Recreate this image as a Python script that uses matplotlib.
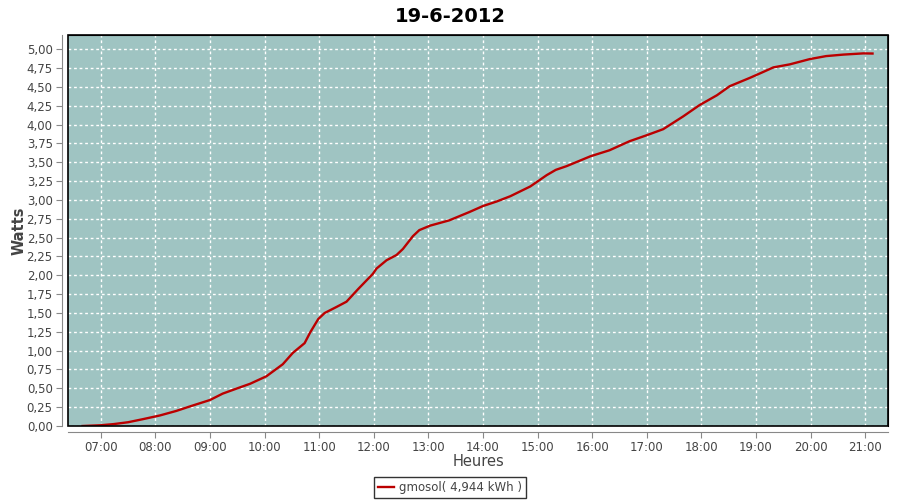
import matplotlib
matplotlib.use("Agg")
import matplotlib.pyplot as plt
import matplotlib.dates as mdates
from matplotlib.patches import Rectangle
import pandas as pd

# readings of the day (time, cumulated energy)
heures = ["06:40", "07:00", "07:14", "07:30", "07:46", "08:05", "08:23", "08:38", "09:00",
          "09:14", "09:30", "09:44", "10:02", "10:20", "10:31", "10:44", "10:50", "10:59",
          "11:06", "11:19", "11:30", "11:43", "11:59", "12:03", "12:14", "12:25", "12:32",
          "12:43", "12:50", "13:02", "13:23", "13:45", "14:00", "14:15", "14:30", "14:52",
          "15:10", "15:20", "15:32", "15:58", "16:19", "16:41", "17:00", "17:18", "17:40",
          "17:58", "18:17", "18:31", "18:53", "19:08", "19:19", "19:37", "19:59", "20:17",
          "20:36", "20:58", "21:08"]
watts = [0.00, 0.01, 0.025, 0.05, 0.09, 0.14, 0.20, 0.26, 0.345,
         0.43, 0.50, 0.56, 0.66, 0.82, 0.97, 1.10, 1.24, 1.42,
         1.50, 1.58, 1.65, 1.82, 2.02, 2.09, 2.20, 2.27, 2.35,
         2.52, 2.60, 2.66, 2.73, 2.84, 2.92, 2.98, 3.05, 3.18,
         3.33, 3.40, 3.45, 3.58, 3.66, 3.78, 3.86, 3.94, 4.11,
         4.26, 4.39, 4.51, 4.62, 4.70, 4.76, 4.80, 4.87, 4.91,
         4.93, 4.946, 4.944]

jour = "2012-06-19"
t = pd.to_datetime([jour + " " + h for h in heures])

fig = plt.figure(figsize=(9, 5), dpi=100)
ax = fig.add_axes([68 / 900, 1 - 426 / 500, 820 / 900, 391 / 500])
ax.set_facecolor("#9fc4c2")

ax.plot(t, watts, color="#bb0000", lw=1.7, label="gmosol( 4,944 kWh )")

ax.set_xlim(pd.Timestamp(jour + " 06:24"), pd.Timestamp(jour + " 21:25"))
ax.set_ylim(0, 5.19)
ax.set_yticks([i * 0.25 for i in range(21)])
ax.yaxis.set_major_formatter(plt.FuncFormatter(lambda v, p: f"{v:.2f}".replace(".", ",")))
ax.xaxis.set_major_locator(mdates.HourLocator())
ax.xaxis.set_major_formatter(mdates.DateFormatter("%H:%M"))

ax.grid(True, color="white", linestyle=(0, (2, 2)), lw=1)
for s in ["top", "right"]:
    ax.spines[s].set_color("black")
for s in ["left", "bottom"]:
    ax.spines[s].set_position(("outward", 4))
    ax.spines[s].set_color("#888888")
ax.add_patch(Rectangle((0, 0), 1, 1, transform=ax.transAxes, fill=False,
                       edgecolor="black", lw=1.2, clip_on=False, zorder=5))
ax.tick_params(colors="#888888", labelcolor="#444444", labelsize=8.5, length=4, pad=3)

ax.set_xlabel("Heures", fontsize=10.5, color="#444444", labelpad=0)
ax.set_ylabel("Watts", fontsize=10.5, color="#444444", fontweight="bold", labelpad=0)
fig.suptitle("19-6-2012", fontsize=14, fontweight="bold", y=0.985)

leg = fig.legend(loc="lower center", bbox_to_anchor=(0.5, -0.008), fontsize=8.5, frameon=True,
                 fancybox=False, edgecolor="black", handlelength=1.3, handletextpad=0.4,
                 borderpad=0.35)
leg.get_frame().set_linewidth(1)
for txt in leg.get_texts():
    txt.set_color("#444444")

fig.savefig("out.png", dpi=100)
